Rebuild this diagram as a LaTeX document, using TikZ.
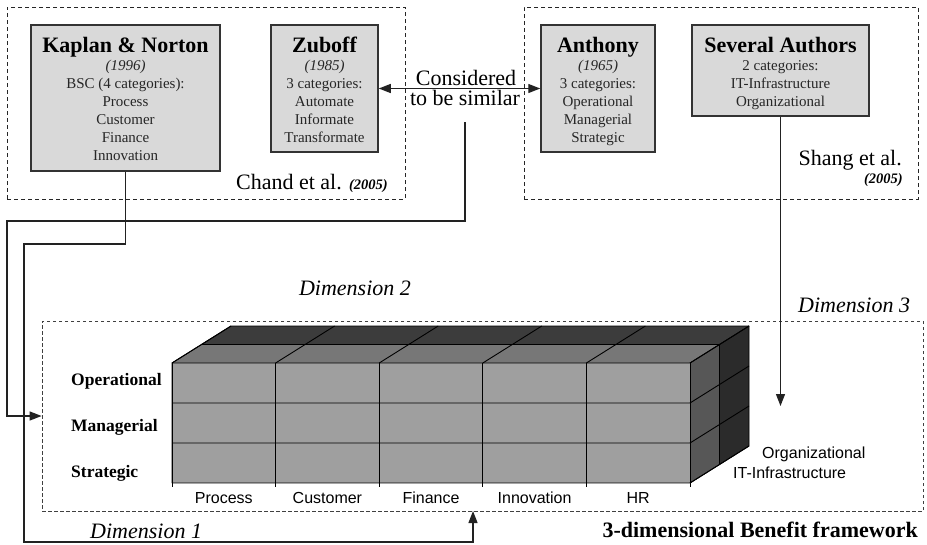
\documentclass[tikz,border=0pt]{standalone}
\usepackage{fontspec}
\setmainfont{Liberation Serif}
\newfontfamily\arialfont{Liberation Sans}
\usetikzlibrary{arrows.meta}

\definecolor{boxfill}{HTML}{D9D9D9}
\definecolor{boxline}{HTML}{333333}
\definecolor{wirecol}{HTML}{222222}
\definecolor{facefront}{HTML}{9F9F9F}
\definecolor{facetopA}{HTML}{777777}
\definecolor{facetopB}{HTML}{3C3C3C}
\definecolor{facesideA}{HTML}{575757}
\definecolor{facesideB}{HTML}{2B2B2B}

\tikzset{
  catbox/.style={draw=boxline, line width=1.5pt, fill=boxfill, inner sep=0pt},
  groupbox/.style={draw=black!85, line width=0.9pt, dash pattern=on 4pt off 3pt, inner sep=0pt},
  framebox/.style={draw=black!75, line width=0.8pt, dash pattern=on 3.5pt off 2.5pt, inner sep=0pt},
  wire/.style={draw=wirecol, line width=1.3pt},
  tip/.style={-{Triangle[length=12pt,width=9pt]}},
  twotip/.style={{Triangle[length=12pt,width=9pt]}-{Triangle[length=12pt,width=9pt]}},
  boxtext/.style={anchor=north, align=center, inner sep=0pt, text=black!85,
    font=\fontsize{15}{18}\selectfont},
  bigtext/.style={inner sep=0pt, font=\fontsize{22}{26}\selectfont},
  dimtext/.style={inner sep=0pt, font=\fontsize{22}{26}\selectfont\itshape},
  rowtext/.style={anchor=base west, inner sep=0pt, font=\fontsize{17.5}{20}\selectfont\bfseries},
  coltext/.style={anchor=base, inner sep=0pt, font=\arialfont\fontsize{16}{18}\selectfont},
  edge3d/.style={draw=black, line width=0.9pt, line join=round},
}
\newcommand{\titlefont}{\fontsize{22}{18}\selectfont\bfseries\color{black}}
\newcommand{\yearfont}{\fontsize{14.5}{16}\selectfont\bfseries\itshape}

\begin{document}
\begin{tikzpicture}[x=1pt, y=-1pt]
\useasboundingbox (0,0) rectangle (927,544);

% ---- source groups ----
\node[groupbox, minimum width=398, minimum height=192] (chand) at (206,103) {};
\node[groupbox, minimum width=394, minimum height=192] (shang) at (721,103) {};

% ---- category boxes ----
\node[catbox, minimum width=189, minimum height=146] (kn) at (125.5,98) {};
\node[catbox, minimum width=107, minimum height=127] (zb) at (324.5,88.5) {};
\node[catbox, minimum width=114, minimum height=127] (an) at (598,88.5) {};
\node[catbox, minimum width=177, minimum height=91] (sa) at (780.5,70.5) {};

\node[boxtext] (kntext) at (125.5,37) {{\titlefont Kaplan \& Norton}\\ \textit{(1996)}\\ BSC (4 categories):\\ Process\\ Customer\\ Finance\\ Innovation};
\node[boxtext] (zbtext) at (324.5,37) {{\titlefont Zuboff}\\ \textit{(1985)}\\ 3 categories:\\ Automate\\ Informate\\ Transformate};
\node[boxtext] (antext) at (598,37) {{\titlefont Anthony}\\ \textit{(1965)}\\ 3 categories:\\ Operational\\ Managerial\\ Strategic};
\node[boxtext] (satext) at (780.5,37) {{\titlefont Several Authors}\\ 2 categories:\\ IT-Infrastructure\\ Organizational};

\node[bigtext, anchor=base east] (chandlbl) at (388,189) {Chand et al. {\yearfont (2005)}};
\node[bigtext, anchor=base east] (shanglbl) at (902,165) {Shang et al.};
\node[inner sep=0pt, anchor=base east, font=\yearfont] (shangyr) at (903,183) {(2005)};

% ---- similarity link ----
\node[bigtext, anchor=base] (cons) at (466,85) {Considered};
\node[bigtext, anchor=base] (simi) at (465,105) {to be similar};
\draw[wire, twotip] (zb.east) -- (an.west);

% ---- framework frame ----
\node[framebox, minimum width=881, minimum height=190] (fw) at (482.5,416) {};
\coordinate (d1in) at (473,511);
\coordinate (d3in) at (780.5,406);
\coordinate (simstart) at (465,122);

% ---- dimension connectors ----
\draw[wire, tip] (kn.south) -- (125.5,244) -- (24,244) -- (24,542) -- (473,542) -- (d1in);
\draw[wire, tip] (simstart) -- (465,221) -- (7,221) -- (7,416) -- (fw.west);
\draw[wire, tip] (sa.south) -- (d3in);

\node[dimtext, anchor=base] (dim2) at (355,295) {Dimension 2};
\node[dimtext, anchor=base west] (dim3) at (798,312) {Dimension 3};
\node[dimtext, anchor=base west] (dim1) at (90,538) {Dimension 1};
\node[bigtext, anchor=base east, font=\fontsize{22}{26}\selectfont\bfseries] (fwtitle) at (918,537) {3-dimensional Benefit framework};

% ---- the cuboid ----
\fill[facetopB] (201.5,344.5) -- (719.5,344.5) -- (749,326) -- (231,326) -- cycle;
\fill[facetopA] (172,363) -- (690,363) -- (719.5,344.5) -- (201.5,344.5) -- cycle;
\fill[facesideA] (690,363) -- (719.5,344.5) -- (719.5,464.5) -- (690,483) -- cycle;
\fill[facesideB] (719.5,344.5) -- (749,326) -- (749,446) -- (719.5,464.5) -- cycle;
\fill[facefront] (172,363) rectangle (690,483);

\draw[edge3d] (172,363) -- (231,326) -- (749,326) -- (749,446) -- (690,483) -- (172,483) -- cycle;
\draw[edge3d] (201.5,344.5) -- (719.5,344.5) -- (719.5,464.5);
\draw[edge3d] (172,363) -- (690,363) -- (749,326);
\foreach \i in {0,...,5} {
  \pgfmathsetmacro{\xx}{172+103.6*\i}
  \draw[edge3d] (\xx,363) -- (\xx,487);
  \draw[edge3d] (\xx,363) -- (\xx+59,326);
}
\draw[edge3d] (172,403) -- (690,403) -- (749,366);
\draw[edge3d] (172,443) -- (690,443) -- (749,406);
\draw[edge3d] (690,483) -- (749,446);

% ---- axis labels ----
\node[rowtext] (rop) at (71,385) {Operational};
\node[rowtext] (rma) at (71,431) {Managerial};
\node[rowtext] (rst) at (71,477) {Strategic};

\node[coltext] (cpr) at (223.8,503) {Process};
\node[coltext] (ccu) at (327.4,503) {Customer};
\node[coltext] (cfi) at (431,503) {Finance};
\node[coltext] (cin) at (534.6,503) {Innovation};
\node[coltext] (chr) at (638.2,503) {HR};

\node[coltext, anchor=base west] (dorg) at (762,458) {Organizational};
\node[coltext, anchor=base west] (dit) at (733,478) {IT-Infrastructure};
\end{tikzpicture}
\end{document}
